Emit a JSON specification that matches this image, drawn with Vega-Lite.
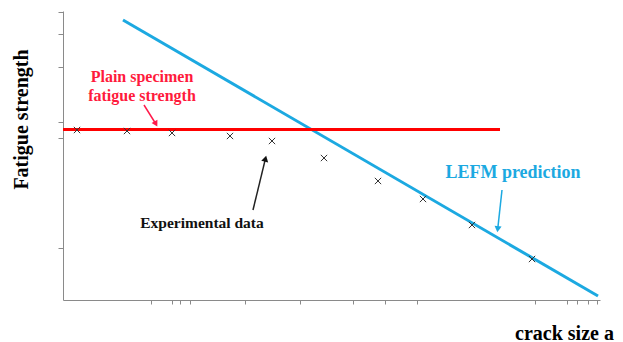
{
  "$schema": "https://vega.github.io/schema/vega-lite/v6.json",
  "width": 537,
  "height": 289,
  "autosize": "none",
  "padding": {"left": 63, "top": 11, "right": 23, "bottom": 42},
  "background": "white",
  "config": {"view": {"stroke": null}, "font": "Liberation Serif"},
  "datasets": {
    "exp": [
      {"a": 2.61, "s": 58.82}, {"a": 11.92, "s": 58.48}, {"a": 20.30, "s": 57.79},
      {"a": 31.10, "s": 56.75}, {"a": 38.92, "s": 55.02}, {"a": 48.60, "s": 49.13},
      {"a": 58.66, "s": 41.18}, {"a": 67.04, "s": 34.95}, {"a": 76.16, "s": 25.95},
      {"a": 87.34, "s": 14.19}
    ],
    "lefm": [{"a": 11.17, "s": 96.89}, {"a": 99.63, "s": 1.38}],
    "plain": [{"a": 0, "s": 59.0}, {"a": 81.38, "s": 59.0}],
    "redlabel": [{"a": 14.71, "s": 77.16, "t": "Plain specimen"}, {"a": 14.71, "s": 70.59, "t": "fatigue strength"}],
    "blacklabel": [{"a": 25.88, "s": 26.64, "t": "Experimental data"}],
    "bluelabel": [{"a": 83.8, "s": 44.0, "t": "LEFM prediction"}],
    "redarrow": [{"a": 15.08, "s": 67.47, "a2": 17.3, "s2": 60.9}],
    "blackarrow": [{"a": 35.38, "s": 31.14, "a2": 37.7, "s2": 48.9}],
    "bluearrow": [{"a": 81.75, "s": 38.06, "a2": 80.95, "s2": 24.5}]
  },
  "layer": [
    {
      "data": {"name": "lefm"},
      "mark": {"type": "line", "color": "#1ca9e1", "strokeWidth": 3},
      "encoding": {
        "x": {"field": "a", "type": "quantitative", "scale": {"domain": [0, 100], "nice": false, "zero": false},
          "axis": {"title": "crack size a", "labels": false, "grid": false, "domainColor": "#8a8a8a", "tickColor": "#8a8a8a", "tickSize": 4,
            "values": [16.39, 20.30, 21.79, 23.65, 33.89, 44.13, 54.00, 59.96, 65.92, 87.90, 93.85, 95.72, 97.77, 99.44],
            "titleFont": "Liberation Serif", "titleFontWeight": "bold", "titleFontSize": 20, "titleColor": "#000000",
            "titleAnchor": null, "titleAlign": "center", "titleBaseline": "middle", "titleX": 501, "titleY": 33}},
        "y": {"field": "s", "type": "quantitative", "scale": {"domain": [0, 100], "nice": false, "zero": false},
          "axis": {"title": "Fatigue strength", "labels": false, "grid": false, "domainColor": "#8a8a8a", "tickColor": "#8a8a8a", "tickSize": 5,
            "values": [99.65, 92.04, 80.62, 61.59, 56.06, 17.99],
            "titleFont": "Liberation Serif", "titleFontWeight": "bold", "titleFontSize": 20, "titleColor": "#000000",
            "titleAnchor": null, "titleAngle": -90, "titleAlign": "center", "titleBaseline": "middle", "titleX": -42, "titleY": 108}}
      }
    },
    {
      "data": {"name": "plain"},
      "mark": {"type": "line", "color": "#ff0000", "strokeWidth": 3},
      "encoding": {"x": {"field": "a", "type": "quantitative"}, "y": {"field": "s", "type": "quantitative"}}
    },
    {
      "data": {"name": "exp"},
      "mark": {"type": "point", "shape": "M-1,-1L1,1M1,-1L-1,1", "filled": false, "color": "#333333", "size": 40, "strokeWidth": 1, "opacity": 1},
      "encoding": {"x": {"field": "a", "type": "quantitative"}, "y": {"field": "s", "type": "quantitative"}}
    },
    {
      "data": {"name": "redarrow"},
      "mark": {"type": "rule", "color": "#ff1a4a", "strokeWidth": 1.5},
      "encoding": {"x": {"field": "a", "type": "quantitative"}, "y": {"field": "s", "type": "quantitative"},
        "x2": {"field": "a2"}, "y2": {"field": "s2"}}
    },
    {
      "data": {"name": "redarrow"},
      "mark": {"type": "point", "shape": "triangle-up", "filled": true, "color": "#ff1a4a", "size": 45, "angle": 151, "opacity": 1},
      "encoding": {"x": {"field": "a2", "type": "quantitative"}, "y": {"field": "s2", "type": "quantitative"}}
    },
    {
      "data": {"name": "blackarrow"},
      "mark": {"type": "rule", "color": "#222222", "strokeWidth": 1.5},
      "encoding": {"x": {"field": "a", "type": "quantitative"}, "y": {"field": "s", "type": "quantitative"},
        "x2": {"field": "a2"}, "y2": {"field": "s2"}}
    },
    {
      "data": {"name": "blackarrow"},
      "mark": {"type": "point", "shape": "triangle-up", "filled": true, "color": "#111111", "size": 50, "angle": 14, "opacity": 1},
      "encoding": {"x": {"field": "a2", "type": "quantitative"}, "y": {"field": "s2", "type": "quantitative"}}
    },
    {
      "data": {"name": "bluearrow"},
      "mark": {"type": "rule", "color": "#1ca9e1", "strokeWidth": 1.5},
      "encoding": {"x": {"field": "a", "type": "quantitative"}, "y": {"field": "s", "type": "quantitative"},
        "x2": {"field": "a2"}, "y2": {"field": "s2"}}
    },
    {
      "data": {"name": "bluearrow"},
      "mark": {"type": "point", "shape": "triangle-up", "filled": true, "color": "#1ca9e1", "size": 50, "angle": 187, "opacity": 1},
      "encoding": {"x": {"field": "a2", "type": "quantitative"}, "y": {"field": "s2", "type": "quantitative"}}
    },
    {
      "data": {"name": "redlabel"},
      "mark": {"type": "text", "font": "Liberation Serif", "fontWeight": "bold", "fontSize": 16, "color": "#ff1a3c", "align": "center", "baseline": "middle"},
      "encoding": {"x": {"field": "a", "type": "quantitative"}, "y": {"field": "s", "type": "quantitative"}, "text": {"field": "t"}}
    },
    {
      "data": {"name": "blacklabel"},
      "mark": {"type": "text", "font": "Liberation Serif", "fontWeight": "bold", "fontSize": 15.5, "color": "#111111", "align": "center", "baseline": "middle"},
      "encoding": {"x": {"field": "a", "type": "quantitative"}, "y": {"field": "s", "type": "quantitative"}, "text": {"field": "t"}}
    },
    {
      "data": {"name": "bluelabel"},
      "mark": {"type": "text", "font": "Liberation Serif", "fontWeight": "bold", "fontSize": 18, "color": "#1ca9e1", "align": "center", "baseline": "middle"},
      "encoding": {"x": {"field": "a", "type": "quantitative"}, "y": {"field": "s", "type": "quantitative"}, "text": {"field": "t"}}
    }
  ]
}
